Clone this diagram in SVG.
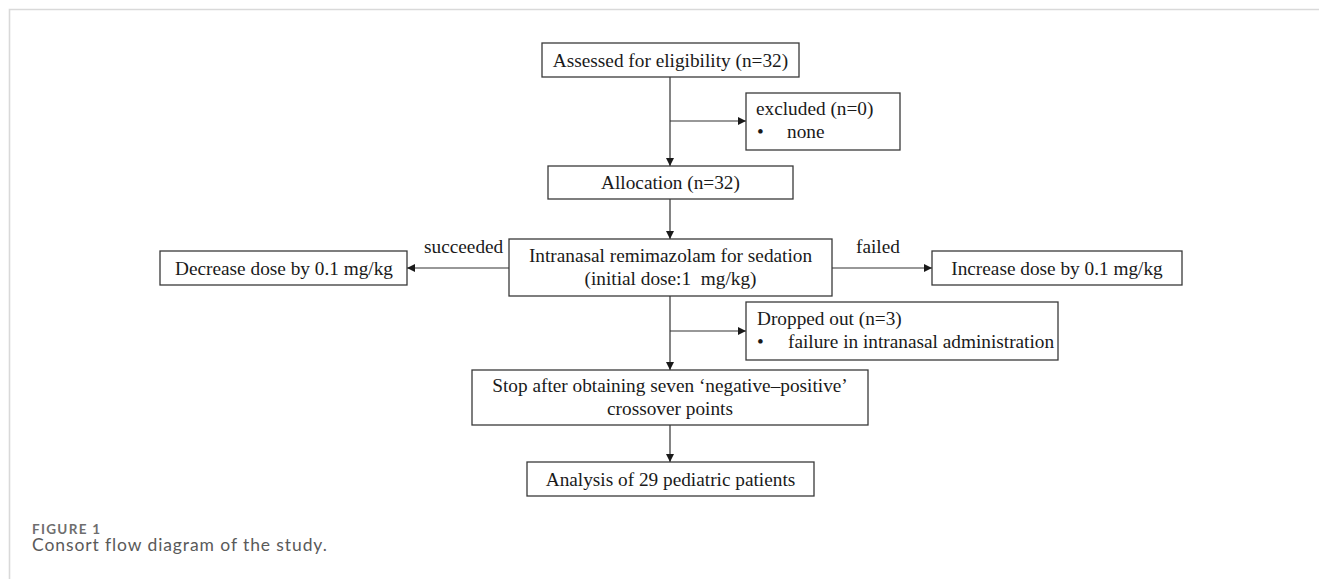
<svg xmlns="http://www.w3.org/2000/svg" width="1319" height="579" viewBox="0 0 1319 579">
<style>
.box{fill:#fff;stroke:#3a3a3a;stroke-width:1.3}
.t{font-family:"Liberation Serif","Times New Roman",serif;font-size:19.3px;fill:#1a1a1a}
.c{text-anchor:middle}
.ln{stroke:#333;stroke-width:1.2;fill:none}
.frame{stroke:#d9d9d9;stroke-width:1.6;fill:none}
.cap1{font-family:Lato,"Open Sans",sans-serif;font-size:13.5px;font-weight:bold;letter-spacing:1.3px;fill:#6e6e6e}
.cap2{font-family:Lato,"Open Sans",sans-serif;font-size:17.5px;letter-spacing:0.9px;fill:#5a5a5a}
</style>
<defs>
<marker id="ah" viewBox="0 0 10 10" refX="10" refY="5" markerWidth="8" markerHeight="8" markerUnits="userSpaceOnUse" orient="auto">
<path d="M0,0 L10,5 L0,10 z" fill="#1a1a1a"/>
</marker>
</defs>
<path class="frame" d="M9.5,579 V9.5 H1319"/>
<g id="connectors">
<line class="ln" x1="670" y1="77" x2="670" y2="166" marker-end="url(#ah)"/>
<line class="ln" x1="670" y1="121" x2="746" y2="121" marker-end="url(#ah)"/>
<line class="ln" x1="670" y1="199" x2="670" y2="239" marker-end="url(#ah)"/>
<line class="ln" x1="509" y1="268" x2="407" y2="268" marker-end="url(#ah)"/>
<line class="ln" x1="832" y1="268" x2="932" y2="268" marker-end="url(#ah)"/>
<line class="ln" x1="670" y1="296" x2="670" y2="370" marker-end="url(#ah)"/>
<line class="ln" x1="670" y1="331" x2="746" y2="331" marker-end="url(#ah)"/>
<line class="ln" x1="670" y1="425" x2="670" y2="462" marker-end="url(#ah)"/>
<text class="t" x="424" y="253">succeeded</text>
<text class="t" x="856" y="253">failed</text>
</g>
<g id="assessed">
<rect class="box" x="542" y="43" width="257" height="34"/>
<text class="t c" x="670.5" y="66.5">Assessed for eligibility (n=32)</text>
</g>
<g id="excluded">
<rect class="box" x="746" y="93" width="154" height="57"/>
<text class="t" x="756" y="115">excluded (n=0)</text>
<text class="t" x="757" y="138">•</text>
<text class="t" x="787" y="138">none</text>
</g>
<g id="allocation">
<rect class="box" x="548" y="166" width="245" height="33"/>
<text class="t c" x="670.5" y="189">Allocation (n=32)</text>
</g>
<g id="intranasal">
<rect class="box" x="509" y="239" width="323" height="57"/>
<text class="t c" x="670.5" y="262">Intranasal remimazolam for sedation</text>
<text class="t c" x="670.5" y="285" xml:space="preserve">(initial dose:1  mg/kg)</text>
</g>
<g id="decrease">
<rect class="box" x="160" y="251" width="247" height="34"/>
<text class="t c" x="284" y="274.5">Decrease dose by 0.1 mg/kg</text>
</g>
<g id="increase">
<rect class="box" x="932" y="251" width="250" height="34"/>
<text class="t c" x="1057" y="274.5">Increase dose by 0.1 mg/kg</text>
</g>
<g id="dropped">
<rect class="box" x="746" y="302" width="312" height="58"/>
<text class="t" x="757" y="325">Dropped out (n=3)</text>
<text class="t" x="757" y="348">•</text>
<text class="t" x="788" y="348">failure in intranasal administration</text>
</g>
<g id="stop">
<rect class="box" x="472" y="370" width="396" height="55"/>
<text class="t c" x="670" y="392">Stop after obtaining seven ‘negative–positive’</text>
<text class="t c" x="670" y="415">crossover points</text>
</g>
<g id="analysis">
<rect class="box" x="527" y="462" width="287" height="34"/>
<text class="t c" x="670.5" y="485.5">Analysis of 29 pediatric patients</text>
</g>
<g id="caption">
<text class="cap1" x="32" y="533.5">FIGURE 1</text>
<text class="cap2" x="32" y="551">Consort flow diagram of the study.</text>
</g>
</svg>
